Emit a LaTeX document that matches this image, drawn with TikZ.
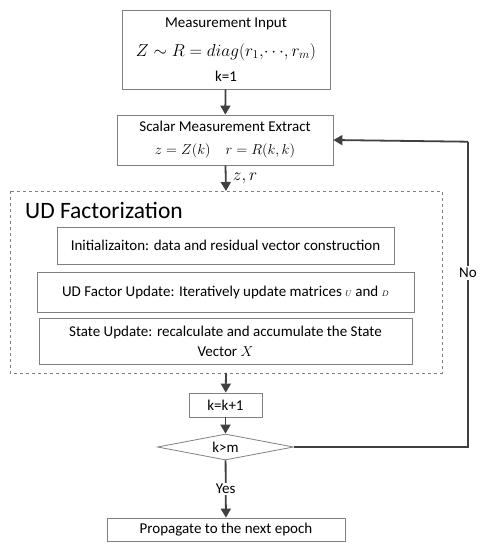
\documentclass[tikz,border=0pt]{standalone}
\usepackage{fontspec}
\setmainfont{Carlito}
\usepackage{amsmath}
\usepackage{tikz}
\usetikzlibrary{arrows.meta,shapes.geometric}
\definecolor{boxgray}{HTML}{808080}
\definecolor{arrowgray}{HTML}{404040}
\tikzset{
    box/.style={draw=boxgray, thick, inner sep=0pt, align=center, font=\fontsize{15}{20}\selectfont},
    flow/.style={draw=arrowgray, line width=1.8pt, -{Triangle[length=9pt,width=10pt]}},
    loopline/.style={draw=arrowgray, line width=1.8pt},
    flowlabel/.style={fill=white, font=\fontsize{15}{18}\selectfont}
}

\begin{document}
\begin{tikzpicture}[x=1pt, y=-1pt]
    \useasboundingbox (0,0) rectangle (484,550);
    % main column
    \node[box, minimum width=208pt, minimum height=79pt] (input) at (226,49.5)
        {Measurement Input\\[9pt]
         {\fontsize{17}{20}\selectfont $Z\sim R=diag(r_1,\!\cdots\!,r_m)$}\\[5pt]
         k=1};
    \node[box, minimum width=216pt, minimum height=50pt] (scalar) at (225,140)
        {Scalar Measurement Extract\\[3pt]
         {\fontsize{15}{18}\selectfont $z=Z(k)\quad r=R(k,k)$}};
    \draw[boxgray, thick, dashed] (10,191) rectangle (442,373);
    \coordinate (udtop) at (226,191);
    \coordinate (udbot) at (226,373);
    \node[anchor=west, font=\fontsize{23.5}{28}\selectfont, inner sep=0pt] (udtitle) at (25,210) {UD Factorization};
    \node[box, minimum width=337pt, minimum height=37pt] (init) at (225.5,245.5)
        {Initializaiton: data and residual vector construction};
    \node[box, minimum width=377pt, minimum height=40pt] (update) at (225.5,292)
        {UD Factor Update: Iteratively update matrices {\footnotesize$U$} and {\footnotesize$D$}};
    \node[box, minimum width=373pt, minimum height=46pt] (state) at (225.5,341)
        {State Update: recalculate and accumulate the State\\ Vector $X$};
    \node[box, minimum width=73pt, minimum height=24pt] (incr) at (225.5,405) {k=k+1};
    \node[box, diamond, aspect=5, minimum width=136pt, minimum height=26pt] (check) at (225.5,447) {k>m};
    \node[box, minimum width=238pt, minimum height=23pt] (final) at (226,529.5)
        {Propagate to the next epoch};
    % connectors
    \draw[flow] (input) -- (scalar);
    \draw[flow] (scalar) -- node[right=3pt, pos=0.5, font=\fontsize{16}{18}\selectfont] {$z,r$} (udtop);
    \draw[flow] (udbot) -- (incr);
    \draw[flow] (incr) -- (check);
    \draw[flow] (check) -- node[flowlabel, inner sep=1pt] (yes) {Yes} (final);
    \draw[loopline] (check.east) -- (468,447) -- node[flowlabel, inner sep=2pt, pos=0.57] (no) {No} (468,141.7);
    \draw[flow] (468,141.7) -- (scalar.east);
\end{tikzpicture}
\end{document}
